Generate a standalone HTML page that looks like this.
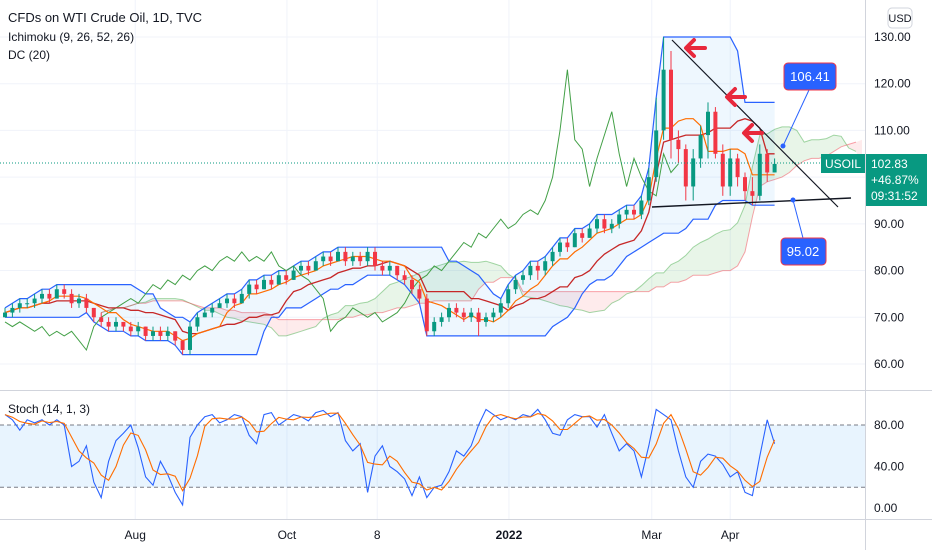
<!DOCTYPE html>
<html><head><meta charset="utf-8"><style>
body{margin:0;background:#fff;font-family:"Liberation Sans",sans-serif;}
svg{display:block}
text{font-family:"Liberation Sans",sans-serif;}
</style></head><body>
<svg id="c" width="932" height="550" viewBox="0 0 932 550" xmlns="http://www.w3.org/2000/svg">
<g id="grid"></g>
<g id="stochbg"></g>
<g id="ind"></g>
<g id="candles"></g>
<g id="stoch"></g>
<g id="draw">
  <line x1="672" y1="40" x2="838" y2="207" stroke="#131722" stroke-width="1.2"/>
  <line x1="652" y1="207" x2="851" y2="198" stroke="#131722" stroke-width="1.4"/>
  <g fill="none" stroke="#e8283c" stroke-width="4" stroke-linecap="round" stroke-linejoin="round">
    <path d="M694,40 L686,48 L694,56 M687,48 L705,48"/>
    <path d="M735,89 L727,97 L735,105 M728,97 L745,97"/>
    <path d="M752,125 L744,133 L752,141 M745,133 L762,133"/>
  </g>
  <line x1="809" y1="90" x2="783" y2="146" stroke="#2962ff" stroke-width="1"/>
  <circle cx="783" cy="146" r="2.5" fill="#2962ff"/>
  <rect x="784" y="63" width="52" height="27" rx="4" fill="#2962ff" stroke="#f23645" stroke-width="1"/>
  <text x="810" y="81" fill="#fff" font-size="13" text-anchor="middle">106.41</text>
  <line x1="793" y1="200" x2="803" y2="238" stroke="#2962ff" stroke-width="1"/>
  <circle cx="793" cy="200" r="2.5" fill="#2962ff"/>
  <rect x="781" y="238" width="45" height="27" rx="4" fill="#2962ff" stroke="#f23645" stroke-width="1"/>
  <text x="803" y="256" fill="#fff" font-size="13" text-anchor="middle">95.02</text>
</g>
<g id="axes"></g>
</svg>
<script>
const closes=[71,72,73,73,74,75,74,76,75,73,74,72,70,69,68,69,68,67,68,66,67,66,67,65,63,68,70,71,72,73,74,73,75,77,76,78,77,79,78,80,81,80,82,83,82,84,82,83,82,84,81,80,81,79,78,76,74,67,69,70,72,71,70,71,69,70,71,73,76,78,79,81,80,82,84,86,85,88,87,89,91,89,90,92,93,92,95,100,110,123,108,106,98,104,109,114,105,98,104,100,97,96,105,101,102.83];
const highs=[72,73,74,74,75,76,76,77,77,76,75,75,72,71,70,70,69,69,69,68,68,68,68,67,65,69,71,72,73,74,75,75,76,78,78,79,79,80,80,81,82,82,83,84,84,85,85,84,84,85,85,82,82,81,80,79,77,75,70,71,73,73,72,72,72,71,72,74,77,79,80,82,82,83,85,87,87,89,89,90,92,92,91,93,94,94,96,102,117,130,127,110,107,106,111,116,115,107,106,105,101,100,107,106,104];
const lows=[70,70,71,72,72,73,73,74,74,72,72,71,69,68,67,67,67,66,66,65,65,65,65,64,62,62,67,70,70,72,72,72,73,74,75,76,76,77,77,78,79,79,80,81,81,82,81,81,81,81,80,79,79,78,77,75,73,66,66,68,69,70,69,69,66,68,69,70,72,75,77,78,78,79,81,83,84,85,86,87,88,88,88,89,91,91,91,94,99,108,104,103,95,95,102,104,104,96,96,98,95,94,95,99,101];
const stochK=[90,85,75,85,82,85,80,85,80,40,45,60,25,10,45,65,72,80,58,30,22,45,32,15,3,68,80,88,90,82,85,90,88,70,62,90,92,80,85,90,88,84,92,94,88,92,65,55,62,15,50,60,40,35,28,12,30,10,20,22,35,55,50,60,80,95,90,85,88,85,90,88,95,85,72,70,85,90,88,88,78,90,72,55,62,55,30,60,95,90,85,55,30,20,45,52,50,42,30,35,15,12,50,85,62];
const priceTicks=[130,120,110,100,90,80,70,60];
const stochTicks=[80,40,0];
const timeLabels=["Aug","Oct","8","2022","Mar","Apr"];
const timeIdx=[17.6,38.1,50.3,68.1,87.4,98];

const NS="http://www.w3.org/2000/svg";
const X=i=>5+i*7.4;
const Y=p=>37+(130-p)*4.671;
const SY=v=>508-v*1.0375;
function el(tag,attrs,parent){const e=document.createElementNS(NS,tag);for(const k in attrs)e.setAttribute(k,attrs[k]);parent.appendChild(e);return e;}
const g=id=>document.getElementById(id);
const N=closes.length;

const grid=g('grid');
for(const p of priceTicks){const l=el('line',{x1:0,x2:865,y1:Y(p),y2:Y(p),stroke:'#f0f3fa'},grid);

}
for(const t of timeIdx){const l=el('line',{x1:X(t),x2:X(t),y1:0,y2:520,stroke:'#f0f3fa'},grid);

}

function rng(i,p,arrH,arrL){let h=-1e9,l=1e9;for(let j=Math.max(0,i-p+1);j<=i;j++){h=Math.max(h,arrH[j]);l=Math.min(l,arrL[j]);}return [h,l];}
const ind=g('ind');
const dcU=[],dcL=[],ten=[],kij=[],spA=[],spB=[];
for(let i=0;i<N;i++){const d=rng(i,10,highs,lows);dcU.push(d[0]);dcL.push(d[1]);
const t=rng(i,5,highs,lows),k=rng(i,13,highs,lows),b=rng(i,26,highs,lows);
ten.push((t[0]+t[1])/2);kij.push((k[0]+k[1])/2);spA.push(((t[0]+t[1])/2+(k[0]+k[1])/2)/2);spB.push((b[0]+b[1])/2);}
for(let i=0;i<N-1;i++){const x1=X(i+13),x2=Math.min(X(i+14),862);if(x1>=862)break;
const up=spA[i]>=spB[i];
const q=el('polygon',{points:`${x1},${Y(spA[i])} ${x2},${Y(spA[i+1])} ${x2},${Y(spB[i+1])} ${x1},${Y(spB[i])}`,fill:up?'rgba(76,175,80,0.13)':'rgba(242,54,69,0.10)'},ind);

}
function path(vals,off,color,w,name){let d='';vals.forEach((v,i)=>{const x=X(i+off);if(x<0||x>862)return;d+=(d?'L':'M')+x.toFixed(1)+','+Y(v).toFixed(1);});
const p=el('path',{d,fill:'none',stroke:color,'stroke-width':w},ind);

}
path(spA,13,'rgba(76,175,80,0.5)',1,'senkou-span-a');
path(spB,13,'rgba(242,54,69,0.45)',1,'senkou-span-b');
let dp='';for(let i=0;i<N;i++)dp+=(i?'L':'M')+X(i)+','+Y(dcU[i]);for(let i=N-1;i>=0;i--)dp+='L'+X(i)+','+Y(dcL[i]);
const dfill=el('path',{d:dp+'Z',fill:'rgba(33,150,243,0.08)'},ind);


path(dcU,0,'#2962ff',1.2,'donchian-upper');
path(dcL,0,'#2962ff',1.2,'donchian-lower');
path(closes,-13,'#43a047',1,'chikou-span');
path(kij,0,'#c62828',1.3,'kijun-sen');
path(ten,0,'#ff6d00',1.2,'tenkan-sen');

const cg=g('candles');
for(let i=0;i<N;i++){const o=i?closes[i-1]:70,c=closes[i],up=c>=o,col=up?'#089981':'#f23645',x=X(i);
const w=el('line',{x1:x,x2:x,y1:Y(highs[i]),y2:Y(lows[i]),stroke:col,'stroke-width':1},cg);


const r=el('rect',{x:x-2,y:Y(Math.max(o,c)),width:4,height:Math.max(1,Math.abs(Y(o)-Y(c))),fill:col},cg);

}

const sb=g('stochbg');
const band=el('rect',{x:0,y:SY(80),width:865,height:SY(20)-SY(80),fill:'rgba(33,150,243,0.1)'},sb);


for(const v of [80,20]){const l=el('line',{x1:0,x2:865,y1:SY(v),y2:SY(v),stroke:'#787b86','stroke-dasharray':'4,3','stroke-width':1},sb);

}
const sg=g('stoch');
const stochD=stochK.map((v,i)=>{const a=stochK.slice(Math.max(0,i-2),i+1);return a.reduce((s,x)=>s+x,0)/a.length;});
function spath(vals,color,name){const d=vals.map((v,i)=>(i?'L':'M')+X(i).toFixed(1)+','+SY(v).toFixed(1)).join('');
const p=el('path',{d,fill:'none',stroke:color,'stroke-width':1.1},sg);

}
spath(stochK,'#2962ff','stoch-k-line');
spath(stochD,'#ff6d00','stoch-d-line');

const ax=g('axes');
const ln=(a,n)=>{const l=el('line',a,ax);};
ln({x1:865.5,x2:865.5,y1:0,y2:550,stroke:'#d1d4dc'},'price-axis-border');
ln({x1:0,x2:932,y1:390.5,y2:390.5,stroke:'#d1d4dc'},'pane-separator');
ln({x1:0,x2:932,y1:519.5,y2:519.5,stroke:'#d1d4dc'},'time-axis-border');
ln({x1:0,x2:865,y1:163,y2:163,stroke:'#089981','stroke-dasharray':'1,2'},'last-price-line');
const tx=(x,y,s,n,o)=>{const t=el('text',Object.assign({x,y,'font-size':12,fill:'#131722'},o||{}),ax);t.textContent=s;return t;};
for(const p of priceTicks){if(p===100)continue;tx(874,Y(p)+4,p.toFixed(2),'price-tick-label');}
for(const v of stochTicks)tx(874,SY(v)+4,v.toFixed(2),'stoch-tick-label');
timeLabels.forEach((s,i)=>tx(X(timeIdx[i]),539,s,'time-label',{'text-anchor':'middle','font-weight':s==='2022'?'bold':'normal'}));
const ub=el('rect',{x:888,y:8,width:24,height:20,rx:4,fill:'#fff',stroke:'#d1d4dc'},ax);


tx(900,22,'USD','currency-label',{'text-anchor':'middle','font-size':11});
const sl=el('rect',{x:821,y:154,width:44,height:19,fill:'#089981'},ax);


tx(843,168,'USOIL','symbol-label',{'text-anchor':'middle',fill:'#fff'});
const pb=el('rect',{x:866,y:154,width:61,height:52,fill:'#089981'},ax);


tx(871,168,'102.83','last-price',{fill:'#fff'});
tx(871,184,'+46.87%','price-change',{fill:'#fff'});
tx(871,200,'09:31:52','countdown',{fill:'#fff'});
tx(8,22,'CFDs on WTI Crude Oil, 1D, TVC','chart-title',{'font-size':13});
tx(8,41,'Ichimoku (9, 26, 52, 26)','ichimoku-legend',{'font-size':12});
tx(8,59,'DC (20)','donchian-legend',{'font-size':12});
tx(8,413,'Stoch (14, 1, 3)','stoch-legend',{'font-size':12});
</script>
</body></html>
